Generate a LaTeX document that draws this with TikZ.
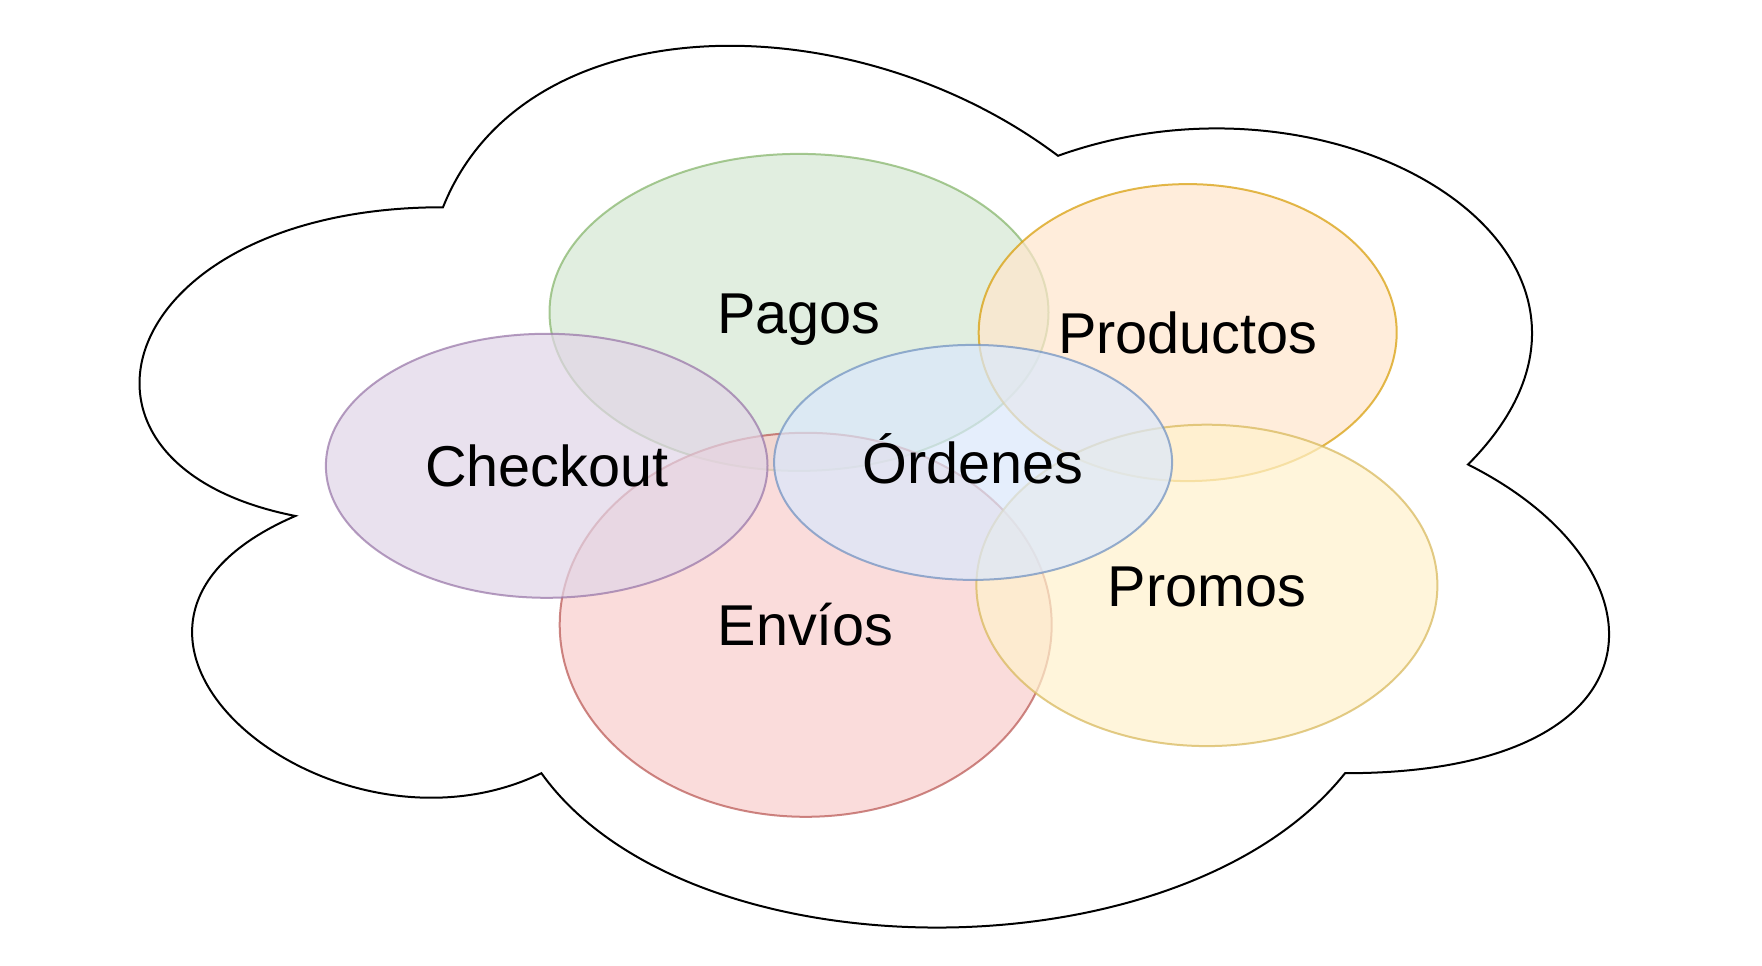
\documentclass[tikz,border=0pt]{standalone}
\usepackage{fontspec}
\setmainfont{Liberation Sans}
\usetikzlibrary{shapes.geometric}
\definecolor{gfill}{HTML}{D5E8D4}\definecolor{gline}{HTML}{82B366}
\definecolor{ofill}{HTML}{FFE6CC}\definecolor{oline}{HTML}{D79B00}
\definecolor{pfill}{HTML}{E1D5E7}\definecolor{pline}{HTML}{9673A6}
\definecolor{rfill}{HTML}{F8CECC}\definecolor{rline}{HTML}{B85450}
\definecolor{yfill}{HTML}{FFF2CC}\definecolor{yline}{HTML}{D6B656}
\definecolor{bfill}{HTML}{DAE8FC}\definecolor{bline}{HTML}{6C8EBF}
\begin{document}
\begin{tikzpicture}[x=1pt,y=-1pt,
  cloudline/.style={draw=black,line width=2pt,fill=white},
  setshape/.style n args={2}{ellipse,inner sep=0pt,line width=2pt,
    draw=#2,fill=#1,draw opacity=0.7,fill opacity=0.7,text opacity=1},
  setlabel/.style={anchor=base,inner sep=0pt,text=black,
    font=\fontsize{57.6}{69}\selectfont}]
\useasboundingbox (0,0) rectangle (1762,966);

% outer cloud
\begin{scope}[shift={(33,-50)},x=1640pt,y=-1029pt]
\draw[cloudline] (0.25,0.25)
  .. controls (0.05,0.25) and (0,0.5) .. (0.16,0.55)
  .. controls (0,0.66) and (0.18,0.9) .. (0.31,0.8)
  .. controls (0.4,1) and (0.7,1) .. (0.8,0.8)
  .. controls (1,0.8) and (1,0.6) .. (0.875,0.5)
  .. controls (1,0.3) and (0.8,0.1) .. (0.625,0.2)
  .. controls (0.5,0.05) and (0.3,0.05) .. (0.25,0.25) -- cycle;
\end{scope}

% overlapping sets
\node[setshape={gfill}{gline},minimum width=499pt,minimum height=317pt] (pagos) at (799,312.4) {};
\node[setshape={rfill}{rline},minimum width=492pt,minimum height=384pt] (envios) at (805.7,624.8) {};
\node[setshape={ofill}{oline},minimum width=418pt,minimum height=297pt] (productos) at (1187.7,332.6) {};
\node[setshape={pfill}{pline},minimum width=441.6pt,minimum height=264pt] (checkout) at (546.7,465.8) {};
\node[setshape={yfill}{yline},minimum width=461pt,minimum height=321.4pt] (promos) at (1206.9,585.4) {};
\node[setshape={bfill}{bline},minimum width=398pt,minimum height=235pt] (ordenes) at (973.1,462.4) {};

% labels
\node[setlabel] (t-pagos) at ([yshift=-20.8pt]pagos.center) {Pagos};
\node[setlabel] (t-envios) at ([yshift=-20.8pt]envios.center) {Envíos};
\node[setlabel] (t-productos) at ([yshift=-20.8pt]productos.center) {Productos};
\node[setlabel] (t-checkout) at ([yshift=-20.8pt]checkout.center) {Checkout};
\node[setlabel] (t-promos) at ([yshift=-20.8pt]promos.center) {Promos};
\node[setlabel] (t-ordenes) at ([yshift=-20.8pt]ordenes.center) {Órdenes};
\end{tikzpicture}
\end{document}
